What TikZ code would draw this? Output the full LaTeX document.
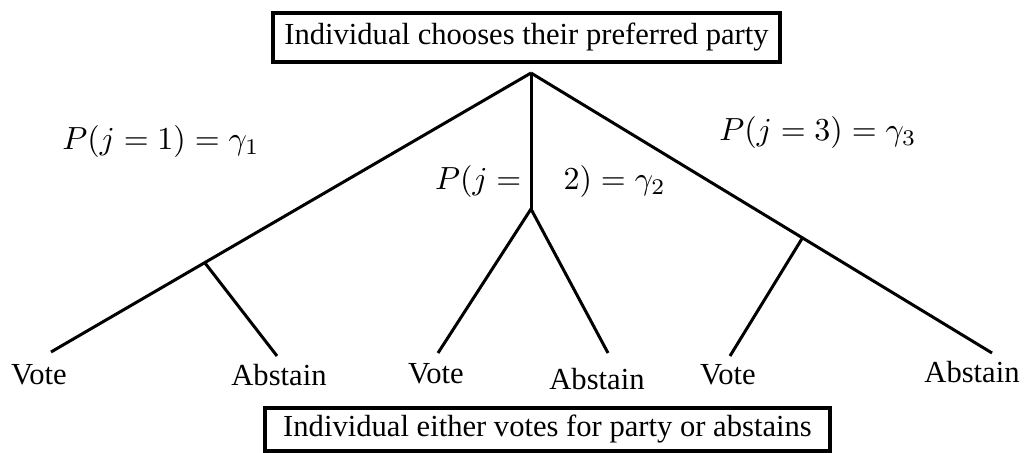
\documentclass[tikz,border=0pt]{standalone}
\usepackage{fontspec}
\setmainfont{Liberation Serif}
\begin{document}
\begin{tikzpicture}[x=0.5pt,y=-0.5pt,
  branch/.style={line width=1.5pt},
  lbl/.style={font=\fontsize{15.3}{18}\selectfont, inner sep=0pt},
  mlbl/.style={scale=1.6, inner sep=0pt},
  boxnode/.style={draw, font=\fontsize{15.3}{18}\selectfont, inner sep=0pt}]
\useasboundingbox (0,0) rectangle (1030,453);
% boxes
\node[boxnode, line width=2pt, minimum width=253.5pt, minimum height=24.5pt] (top) at (526.5,37.5) {Individual chooses their preferred party};
\node[boxnode, line width=1.6pt, minimum width=282.5pt, minimum height=21.5pt] (bot) at (547.5,429.5) {Individual either votes for party or abstains};
% tree points
\coordinate (apex) at (531,73);
\coordinate (j1) at (205,263);
\coordinate (j2) at (531,209);
\coordinate (j3) at (803,237);
\coordinate (e1v) at (51,352);
\coordinate (e1a) at (277,356);
\coordinate (e2v) at (438,353);
\coordinate (e2a) at (608,353);
\coordinate (e3v) at (730,356);
\coordinate (e3a) at (992,353);
% branches
\draw[branch] (apex) -- (e1v);
\draw[branch] (j1) -- (e1a);
\draw[branch] (apex) -- (j2);
\draw[branch] (j2) -- (e2v);
\draw[branch] (j2) -- (e2a);
\draw[branch] (apex) -- (e3a);
\draw[branch] (j3) -- (e3v);
% leaf labels
\node[lbl] (v1) at (39,375) {Vote};
\node[lbl] (a1) at (279,375) {Abstain};
\node[lbl] (v2) at (436,374) {Vote};
\node[lbl] (a2) at (597,379) {Abstain};
\node[lbl] (v3) at (728,375) {Vote};
\node[lbl] (a3) at (972,372) {Abstain};
% probability labels
\node[mlbl] (p1) at (161,142) {$P(j=1)=\gamma_1$};
\node[mlbl] (p3) at (818,133) {$P(j=3)=\gamma_3$};
\node[mlbl, anchor=base east] (p2a) at (522,190) {$P(j=$};
\node[mlbl, anchor=base west] (p2b) at (563,190) {$2)=\gamma_2$};
\end{tikzpicture}
\end{document}
